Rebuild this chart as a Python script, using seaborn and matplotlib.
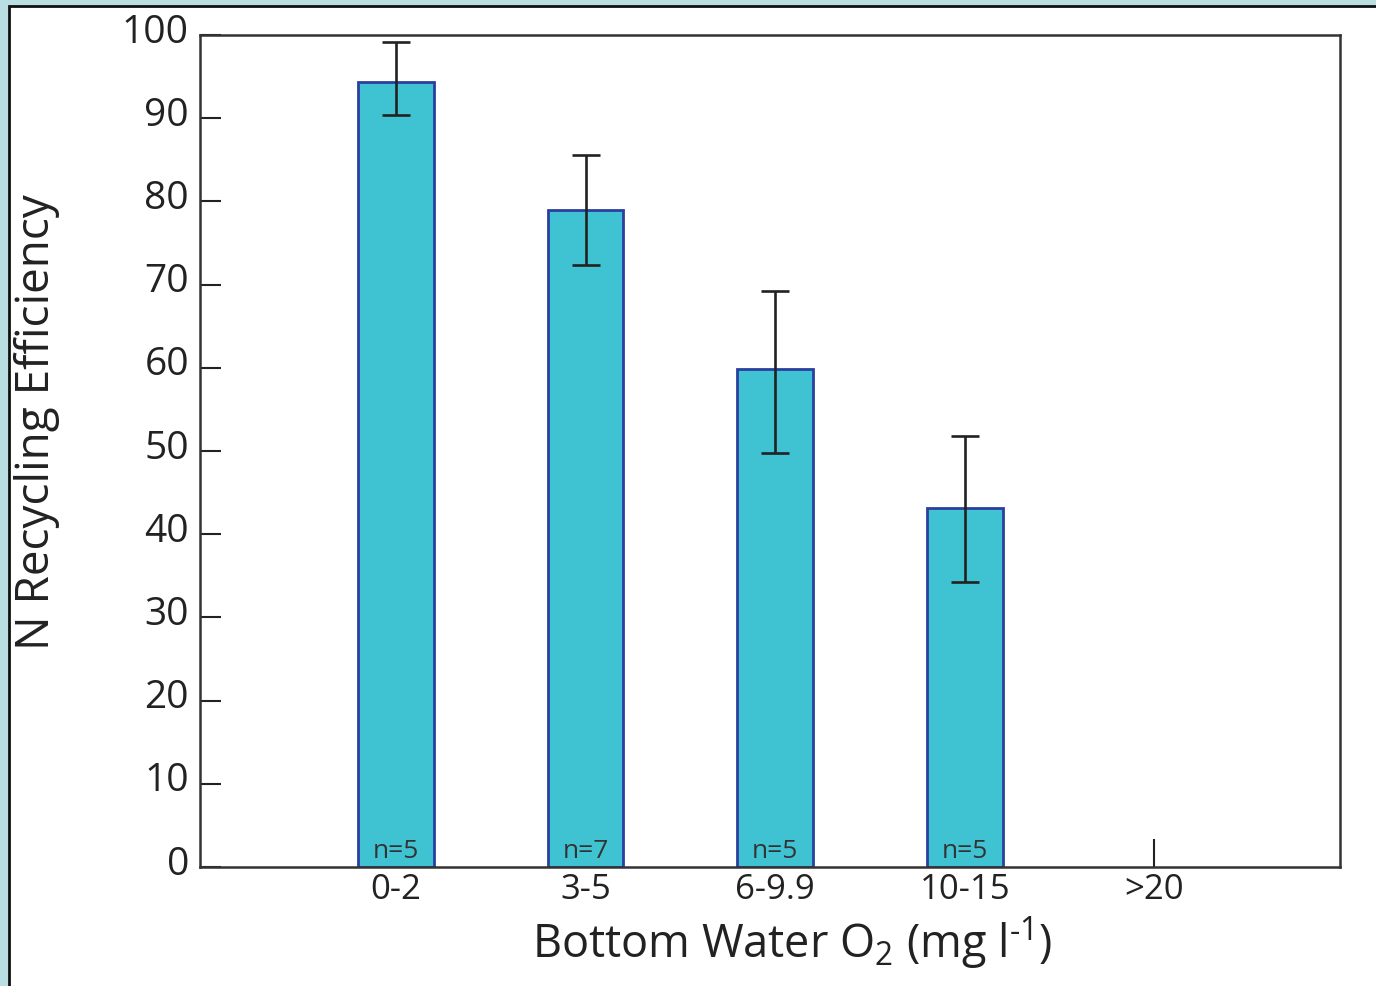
import numpy as np
import pandas as pd
import matplotlib
matplotlib.use("Agg")
import matplotlib.pyplot as plt
import matplotlib.transforms as mtransforms
from matplotlib.patches import Rectangle
import seaborn as sns

# Oxygen classes and mean N recycling efficiency (%) per class
categories = ["0-2", "3-5", "6-9.9", "10-15", ">20"]
efficiency = [94.4, 79.0, 59.8, 43.2, np.nan]
err_low = [4.0, 6.6, 10.0, 9.0, np.nan]
err_high = [4.8, 6.6, 9.4, 8.6, np.nan]
n_labels = ["n=5", "n=7", "n=5", "n=5", ""]
y_ticks = [0, 10, 20, 30, 40, 50, 60, 70, 80, 90, 100]

sns.set_theme(style="white")
plt.rcParams["font.family"] = ["Open Sans", "DejaVu Sans"]
plt.rcParams["mathtext.fontset"] = "custom"
plt.rcParams["mathtext.rm"] = "Open Sans"
plt.rcParams["mathtext.it"] = "Open Sans"
plt.rcParams["mathtext.bf"] = "Open Sans"

df = pd.DataFrame({"oxygen": categories, "efficiency": efficiency})

fig = plt.figure(figsize=(13.76, 9.86), dpi=100)
fig.patch.set_facecolor("#BADFE3")
# white panel with dark frame inside the light blue border
fig.patches.append(Rectangle((9 / 1376, -0.05), 1.1, 1 - 6 / 986 + 0.05,
                             transform=fig.transFigure, facecolor="white",
                             edgecolor="#111111", linewidth=2.0, zorder=-5))

ax = fig.add_axes([200 / 1376, 1 - 867 / 986, 1140 / 1376, 832 / 986])
ax.set_zorder(2)
ax.patch.set_alpha(0.0)

sns.barplot(data=df, x="oxygen", y="efficiency", order=categories,
            color="#3FC3D2", saturation=1, width=0.40,
            edgecolor="#2B3FA0", linewidth=2.0, ax=ax, zorder=1)

xpos = np.arange(len(categories))
ax.errorbar(xpos, efficiency, yerr=[err_low, err_high], fmt="none",
            ecolor="#222222", elinewidth=1.9, capsize=10, capthick=1.9,
            zorder=3)

for x, lab in zip(xpos, n_labels):
    ax.text(x, 1.9, lab, ha="center", va="center", fontsize=19,
            color="#333333", zorder=4)

ax.set_xlim(-1.034, 4.98)
ax.set_ylim(0, 100)
ax.set_yticks(y_ticks)
ax.set_axisbelow(True)
ax.tick_params(axis="y", direction="in", length=15, width=1.5,
               colors="#222222", labelsize=28, pad=8, left=True)
ax.tick_params(axis="x", direction="in", length=20, width=1.5,
               colors="#222222", labelsize=25, pad=4, bottom=True)
# the printed numbers sit slightly above their tick marks
lift = mtransforms.ScaledTranslation(0, 5 / 72, fig.dpi_scale_trans)
for lab in ax.get_yticklabels():
    lab.set_transform(lab.get_transform() + lift)

for side, sp in ax.spines.items():
    sp.set_visible(True)
    sp.set_color("#333333")
    sp.set_linewidth(1.8)
    sp.set_zorder(5)

ax.set_xlabel("")
ax.set_ylabel("")
fig.text(37 / 1376, 1 - 422 / 986, "N Recycling Efficiency", rotation=90,
         ha="center", va="center", fontsize=33, color="#222222")
fig.text(792 / 1376, 1 - 958 / 986, "Bottom Water O$_2$ (mg l$^{\u2010 1}$)",
         ha="center", va="baseline", fontsize=32.5, color="#222222")

fig.savefig("out.png", dpi=100, facecolor=fig.get_facecolor())
